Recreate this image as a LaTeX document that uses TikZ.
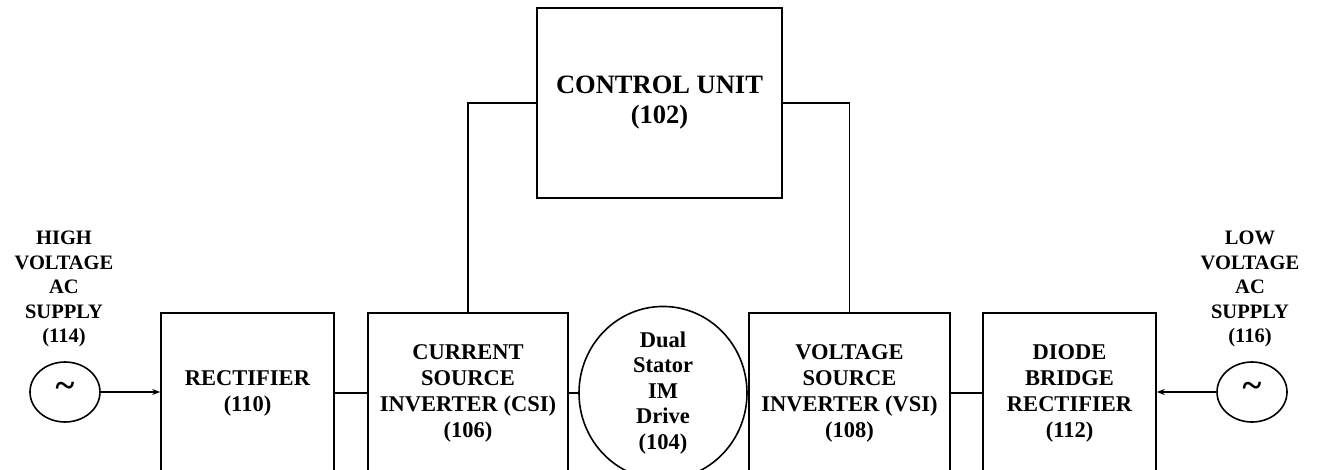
\documentclass[tikz,border=0pt]{standalone}
\usepackage{fontspec}
\setmainfont{Liberation Serif}
\usetikzlibrary{arrows.meta,shapes.geometric}
\begin{document}
\begin{tikzpicture}[x=1pt,y=-1pt,line width=1.6pt,
    blk/.style={draw,rectangle,align=center,inner sep=0pt,minimum height=160pt,
      font=\fontsize{22.5}{26}\selectfont\bfseries},
    src/.style={draw,ellipse,inner sep=0pt,minimum width=70pt,minimum height=60pt,
      font=\fontsize{36}{36}\selectfont\bfseries},
    lbl/.style={align=center,font=\fontsize{20.5}{24.5}\selectfont\bfseries}]
    \clip (0,0) rectangle (1320,469);
    \node[blk,minimum width=245pt,minimum height=190pt,
      font=\fontsize{26.5}{30}\selectfont\bfseries] (cu) at (659.5,103) {CONTROL UNIT\\(102)};
    \node[blk,minimum width=173pt] (rect) at (247.5,393) {RECTIFIER\\(110)};
    \node[blk,minimum width=200pt] (csi) at (468,393) {CURRENT\\SOURCE\\INVERTER (CSI)\\(106)};
    \node[draw,ellipse,align=center,inner sep=0pt,minimum width=168pt,minimum height=160pt,
      font=\fontsize{22.5}{25.5}\selectfont\bfseries] (im) at (663,393) {Dual\\Stator\\IM\\Drive\\(104)};
    \node[blk,minimum width=201pt] (vsi) at (849.5,393) {VOLTAGE\\SOURCE\\INVERTER (VSI)\\(108)};
    \node[blk,minimum width=173pt] (dbr) at (1069.5,393) {DIODE\\BRIDGE\\RECTIFIER\\(112)};
    \node[src] (hv) at (65,392) {\raisebox{5pt}{\textasciitilde}};
    \node[src] (lv) at (1252,392) {\raisebox{5pt}{\textasciitilde}};
    \node[lbl] (hvl) at (64,289) {HIGH\\VOLTAGE\\AC\\SUPPLY\\(114)};
    \node[lbl] (lvl) at (1250,289) {LOW\\VOLTAGE\\AC\\SUPPLY\\(116)};
    % power path
    \draw[-{Stealth[length=8pt,width=6pt]}] (hv) -- (rect.west |- hv);
    \draw[-{Stealth[length=8pt,width=6pt]}] (lv) -- (dbr.east |- lv);
    \draw (rect) -- (csi);
    \draw (csi) -- (im);
    \draw (im) -- (vsi);
    \draw (vsi) -- (dbr);
    % control lines
    \draw (cu.west) -| (csi.north);
    \draw (cu.east) -| (vsi.north);
\end{tikzpicture}
\end{document}
